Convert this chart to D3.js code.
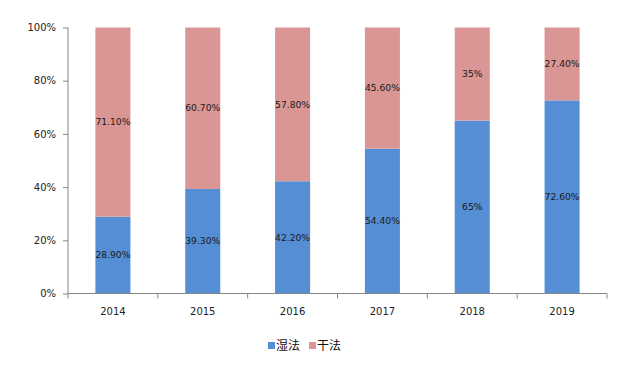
<!DOCTYPE html>
<html>
<head>
<meta charset="utf-8">
<script src="https://cdn.jsdelivr.net/npm/d3@7"></script>
<style>
  body { margin: 0; background: #fff; }
</style>
</head>
<body>
<div id="container"></div>
<script>
/* DATA */
const years = ["2014", "2015", "2016", "2017", "2018", "2019"];
const wetValues = [28.9, 39.3, 42.2, 54.4, 65, 72.6];
const dryValues = [71.1, 60.7, 57.8, 45.6, 35, 27.4];
const wetLabels = ["28.90%", "39.30%", "42.20%", "54.40%", "65%", "72.60%"];
const dryLabels = ["71.10%", "60.70%", "57.80%", "45.60%", "35%", "27.40%"];
const seriesNames = ["湿法", "干法"];
const yTicks = [0, 20, 40, 60, 80, 100];

/* CONSTANTS */
const width = 642, height = 371;
const margin = { top: 27.5, right: 35, bottom: 77.5, left: 68 };
const colors = ["#558ED5", "#D99694"];

const table = years.map((y, i) => ({ year: y, wet: wetValues[i], dry: dryValues[i],
  wetLabel: wetLabels[i], dryLabel: dryLabels[i] }));

const svg = d3.select("#container").append("svg")
  .attr("width", width)
  .attr("height", height);

const xScale = d3.scaleBand()
  .domain(years)
  .range([margin.left, width - margin.right])
  .paddingInner(0.61)
  .paddingOuter(0.305);

const yScale = d3.scaleLinear()
  .domain([0, 100])
  .range([height - margin.bottom, margin.top]);

const stack = d3.stack().keys(["wet", "dry"]);
const layers = stack(table);

// bars
svg.selectAll("g.layer")
  .data(layers)
  .join("g")
  .attr("class", "layer")
  .attr("fill", (d, i) => colors[i])
  .selectAll("rect")
  .data(d => d)
  .join("rect")
  .attr("x", d => xScale(d.data.year))
  .attr("width", xScale.bandwidth())
  .attr("y", d => yScale(d[1]))
  .attr("height", d => yScale(d[0]) - yScale(d[1]));

// bar labels
layers.forEach((layer, li) => {
  svg.append("g")
    .selectAll("text")
    .data(layer)
    .join("text")
    .attr("x", d => xScale(d.data.year) + xScale.bandwidth() / 2)
    .attr("y", d => (yScale(d[0]) + yScale(d[1])) / 2)
    .attr("dy", "0.35em")
    .attr("text-anchor", "middle")
    .attr("font-family", "DejaVu Sans, sans-serif")
    .attr("font-size", "9.2px")
    .attr("fill", "#1a1a1a")
    .text(d => li === 0 ? d.data.wetLabel : d.data.dryLabel);
});

// y axis
const yAxis = svg.append("g")
  .attr("transform", `translate(${margin.left},0)`)
  .call(d3.axisLeft(yScale).tickValues(yTicks).tickSize(5).tickFormat(d => d + "%"));
yAxis.select(".domain").attr("stroke", "#868686").attr("d",
  `M0,${yScale(0)}V${yScale(100)}`);
yAxis.selectAll(".tick line").attr("stroke", "#868686");
yAxis.selectAll(".tick text")
  .attr("x", -12)
  .attr("font-family", "DejaVu Sans, sans-serif")
  .attr("font-size", "10px")
  .attr("fill", "#222");

// x axis
const xAxis = svg.append("g")
  .attr("transform", `translate(0,${yScale(0)})`);
xAxis.append("line")
  .attr("x1", margin.left)
  .attr("x2", width - margin.right)
  .attr("stroke", "#868686");
const step = xScale.step();
const boundaries = d3.range(years.length + 1).map(i => margin.left + i * step);
xAxis.selectAll("line.tk")
  .data(boundaries)
  .join("line")
  .attr("class", "tk")
  .attr("x1", d => d).attr("x2", d => d)
  .attr("y1", 0).attr("y2", 5)
  .attr("stroke", "#868686");
xAxis.selectAll("text")
  .data(years)
  .join("text")
  .attr("x", d => xScale(d) + xScale.bandwidth() / 2)
  .attr("y", 18)
  .attr("dy", "0.35em")
  .attr("text-anchor", "middle")
  .attr("font-family", "DejaVu Sans, sans-serif")
  .attr("font-size", "10px")
  .attr("fill", "#222")
  .text(d => d);

// legend
const legend = svg.append("g").attr("transform", "translate(268,346)");
const legendX = [0, 41];
seriesNames.forEach((name, i) => {
  legend.append("rect")
    .attr("x", legendX[i])
    .attr("y", -4)
    .attr("width", 7)
    .attr("height", 7)
    .attr("fill", colors[i]);
  legend.append("text")
    .attr("x", legendX[i] + 8)
    .attr("y", 0)
    .attr("dy", "0.35em")
    .attr("font-family", "Noto Sans CJK SC, sans-serif")
    .attr("font-size", "12px")
    .attr("fill", "#111")
    .text(name);
});
</script>
</body>
</html>
